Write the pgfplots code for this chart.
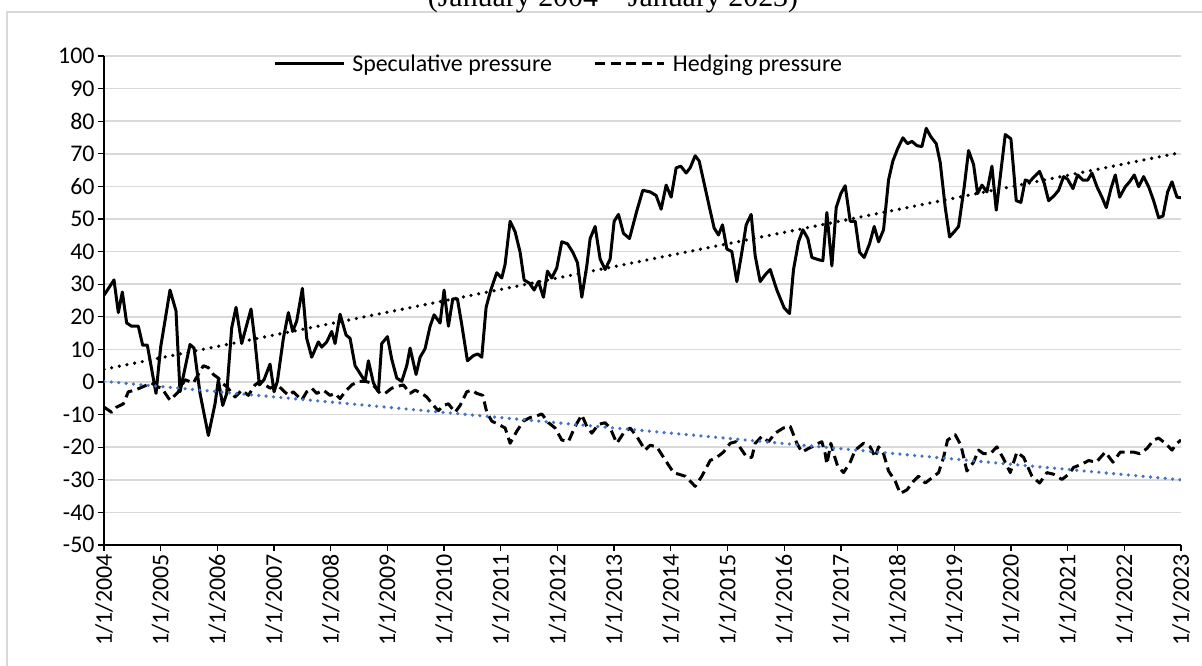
\documentclass[border=0pt]{standalone}
\usepackage{pgfplots}
\pgfplotsset{compat=1.18}
\usepackage{fontspec}
\setmainfont{Carlito}
\newfontfamily\titlefont{Liberation Serif}
\definecolor{gridgray}{HTML}{D9D9D9}
\definecolor{trendblue}{HTML}{4472C4}
\begin{document}
\begin{tikzpicture}[x=1bp,y=1bp]
\useasboundingbox (0,0) rectangle (1202,666);
\draw[gridgray, line width=1.5bp] (7,-20) -- (7,654) -- (1240,654);
\node[font=\titlefont\fontsize{30}{36}\selectfont, anchor=base] at (613,659) {(January 2004 – January 2023)};
\begin{axis}[
  at={(104bp,121bp)}, anchor=south west,
  scale only axis, width=1077bp, height=489bp,
  xmin=2004, xmax=2023, ymin=-50, ymax=100,
  axis x line*=bottom, axis y line*=left,
  axis line style={black, line width=1.5bp, -},
  tick align=outside, major tick length=6bp,
  tick style={black, line width=1.3bp},
  ymajorgrids, grid style={gridgray, line width=1.5bp},
  ytick={-50,-40,...,100},
  yticklabels={-50,-40,-30,-20,-10,0,10,20,30,40,50,60,70,80,90,100},
  xtick={2004,2005,...,2023},
  xticklabels={1/1/2004,1/1/2005,1/1/2006,1/1/2007,1/1/2008,1/1/2009,1/1/2010,1/1/2011,1/1/2012,1/1/2013,1/1/2014,1/1/2015,1/1/2016,1/1/2017,1/1/2018,1/1/2019,1/1/2020,1/1/2021,1/1/2022,1/1/2023},
  ticklabel style={font=\fontsize{24}{28}\selectfont, text=black},
  xticklabel style={rotate=90, anchor=east},
  yticklabel style={anchor=east},
  legend columns=-1,
  legend style={at={(0.157,0.984)}, anchor=west, draw=none, fill=none,
    font=\fontsize{24}{28}\selectfont, inner sep=0pt,
    /tikz/every odd column/.append style={column sep=5bp},
    /tikz/every even column/.append style={column sep=40bp}},
  legend image code/.code={\draw[#1] (0bp,0bp) -- (69bp,0bp);},
  datapts/.style={x filter/.expression={2004+(x-42)/170}},
]
\addplot[black, line width=3bp, line join=round, datapts] coordinates {
(42,26.6) (72,31.3) (85,21.3) (97,27.6) (110,18.1) (125,17.1) (145,17.1) (158,11.3) (172,11.3) (198,-3.5)
(212,10.7) (240,28.2) (258,21.8) (270,-3.0) (300,11.5) (312,10.4) (330,-3.5) (355,-16.4) (375,-6.7) (385,0.7)
(398,-7.2) (410,-3.5) (425,16.6) (438,22.9) (455,11.8) (483,22.4) (495,12.3) (508,-0.9) (522,0.7) (540,5.5)
(552,-3.0) (562,0.2) (580,13.4) (595,21.3) (608,15.5) (620,18.7) (637,28.7) (650,13.4) (665,7.6) (685,12.3)
(695,10.7) (710,12.3) (725,15.5) (735,11.8) (750,20.8) (768,14.4) (780,13.4) (795,5.0) (815,1.8) (825,0.2)
(835,6.5) (850,-0.3) (865,-3.0) (875,11.8) (892,13.9) (905,7.0) (920,1.2) (935,0.2) (950,5.0) (960,10.4)
(978,2.3) (990,7.6) (1005,10.2) (1020,17.1) (1032,20.6) (1050,18.1) (1062,28.2) (1075,17.1) (1088,25.5) (1102,25.5)
(1115,17.6) (1132,6.5) (1150,8.1) (1163,8.6) (1175,7.6) (1188,22.9) (1202,28.2) (1220,33.5) (1235,31.9) (1245,36.1)
(1260,49.3) (1275,46.1) (1290,39.8) (1302,31.3) (1318,30.3) (1332,28.2) (1345,30.8) (1360,26.0) (1372,34.0) (1385,31.9)
(1400,35.0) (1415,43.0) (1432,42.4) (1448,39.8) (1462,36.6) (1475,26.0) (1490,35.6) (1500,44.0) (1515,47.7) (1530,37.7)
(1545,34.5) (1560,37.7) (1572,49.3) (1585,51.4) (1600,45.6) (1618,44.0) (1640,52.5) (1658,58.8) (1680,58.3) (1698,57.2)
(1713,53.0) (1728,60.4) (1743,56.7) (1758,65.7) (1772,66.2) (1788,64.1) (1800,65.7) (1815,69.4) (1827,67.8) (1842,60.9)
(1858,53.5) (1872,47.2) (1885,45.1) (1897,48.2) (1910,40.8) (1925,40.0) (1940,30.8) (1955,39.8) (1968,48.2) (1983,51.4)
(1995,38.7) (2010,30.8) (2025,32.9) (2040,34.5) (2060,28.2) (2082,22.7) (2098,21.0) (2110,34.5) (2125,43.0) (2138,46.7)
(2153,44.0) (2165,38.2) (2185,37.5) (2198,37.2) (2210,52.0) (2225,35.6) (2238,53.5) (2252,57.8) (2265,60.2) (2280,49.3)
(2295,49.3) (2308,39.8) (2322,38.2) (2338,42.4) (2352,47.7) (2365,43.0) (2380,46.7) (2395,62.0) (2408,67.8) (2422,71.5)
(2438,74.9) (2452,73.1) (2465,73.8) (2480,72.5) (2495,72.2) (2508,77.8) (2522,75.2) (2538,73.1) (2550,67.3) (2565,53.5)
(2578,44.5) (2592,46.1) (2605,47.7) (2622,59.9) (2635,71.0) (2650,66.7) (2662,57.8) (2675,60.4) (2690,58.3) (2705,66.2)
(2718,52.7) (2730,63.0) (2745,75.9) (2762,74.6) (2778,55.6) (2792,55.1) (2805,62.0) (2818,61.4) (2832,63.0) (2848,64.6)
(2862,60.9) (2875,55.6) (2892,57.2) (2905,58.8) (2920,63.0) (2932,62.2) (2948,59.3) (2962,63.5) (2978,61.9) (2992,61.9)
(3005,64.1) (3020,59.9) (3035,56.7) (3048,53.5) (3062,59.3) (3075,63.5) (3088,56.7) (3105,59.9) (3118,61.4) (3132,63.5)
(3145,59.9) (3160,63.0) (3175,59.9) (3190,55.6) (3205,50.4) (3218,50.9) (3232,58.3) (3245,61.4) (3260,56.7) (3272,56.5)
};
\addlegendentry{Speculative pressure}
\addplot[black, line width=3bp, line join=round, dash pattern=on 10bp off 5.5bp, datapts] coordinates {
(42,-7.7) (65,-9.3) (80,-7.7) (100,-6.7) (115,-3.0) (135,-2.5) (160,-1.4) (185,-0.3) (200,-1.4) (215,-1.9)
(240,-5.6) (265,-3.0) (285,0.7) (310,-0.3) (340,5.0) (355,4.4) (370,2.3) (385,1.2) (395,-0.3) (410,-1.4)
(435,-4.6) (455,-2.5) (475,-4.1) (495,-0.9) (510,0.2) (540,-1.9) (562,-0.9) (595,-4.1) (610,-3.0) (635,-5.6)
(650,-3.0) (665,-1.9) (680,-3.5) (700,-2.5) (720,-4.1) (735,-3.5) (750,-5.1) (765,-3.0) (785,-0.9) (805,0.2)
(825,0.2) (845,-0.3) (870,-3.5) (885,-3.5) (905,-1.9) (920,-1.4) (940,-0.9) (960,-3.5) (975,-2.5) (995,-3.5)
(1010,-4.6) (1030,-7.2) (1045,-8.8) (1060,-7.2) (1075,-6.7) (1095,-9.3) (1110,-7.2) (1130,-3.0) (1145,-2.5) (1160,-3.5)
(1178,-4.1) (1190,-9.3) (1205,-12.0) (1225,-13.0) (1245,-14.1) (1260,-18.8) (1280,-15.1) (1300,-12.0) (1320,-10.9) (1340,-10.4)
(1355,-9.8) (1375,-12.5) (1395,-14.1) (1415,-17.8) (1435,-18.3) (1455,-13.6) (1475,-10.1) (1490,-13.6) (1505,-15.7) (1525,-13.0)
(1545,-12.5) (1560,-14.1) (1580,-18.8) (1600,-15.7) (1620,-14.1) (1640,-16.7) (1665,-20.9) (1680,-19.4) (1700,-19.9) (1720,-23.1)
(1750,-27.8) (1785,-28.9) (1815,-32.0) (1835,-28.9) (1860,-24.1) (1880,-23.1) (1900,-21.5) (1920,-18.8) (1938,-18.3) (1955,-20.9)
(1970,-23.1) (1985,-23.1) (1995,-18.8) (2015,-16.7) (2035,-18.3) (2055,-15.7) (2080,-14.1) (2100,-13.6) (2120,-18.8) (2135,-21.5)
(2155,-20.4) (2175,-19.4) (2185,-18.8) (2195,-18.3) (2205,-22.0) (2210,-25.2) (2222,-18.8) (2232,-22.5) (2242,-25.7) (2260,-27.8)
(2280,-24.6) (2295,-20.9) (2320,-18.8) (2340,-19.9) (2355,-23.1) (2365,-19.9) (2380,-22.0) (2395,-27.3) (2415,-30.4) (2430,-34.2)
(2450,-33.1) (2470,-30.4) (2485,-28.9) (2505,-31.0) (2525,-29.4) (2545,-27.8) (2560,-23.1) (2572,-17.8) (2595,-16.2) (2612,-19.4)
(2630,-27.3) (2650,-24.6) (2665,-20.9) (2680,-22.0) (2700,-22.0) (2720,-19.9) (2740,-23.6) (2760,-27.8) (2780,-21.5) (2800,-23.1)
(2825,-28.9) (2848,-31.0) (2870,-27.8) (2890,-28.3) (2915,-29.9) (2935,-28.3) (2950,-26.2) (2975,-25.2) (2995,-24.1) (3018,-24.6)
(3045,-21.5) (3068,-24.6) (3090,-21.5) (3110,-21.5) (3130,-21.5) (3148,-22.0) (3170,-20.4) (3190,-17.8) (3205,-17.2) (3225,-18.8)
(3245,-20.9) (3260,-18.8) (3272,-17.8)
};
\addlegendentry{Hedging pressure}
\addplot[black, line width=3.6bp, line cap=round, dash pattern=on 0bp off 7.8bp, forget plot] coordinates {(2004,3.9) (2023,70.4)};
\addplot[trendblue, line width=3.6bp, line cap=round, dash pattern=on 0bp off 7.4bp, forget plot] coordinates {(2004,0.2) (2023,-30.0)};
\end{axis}
\end{tikzpicture}
\end{document}
